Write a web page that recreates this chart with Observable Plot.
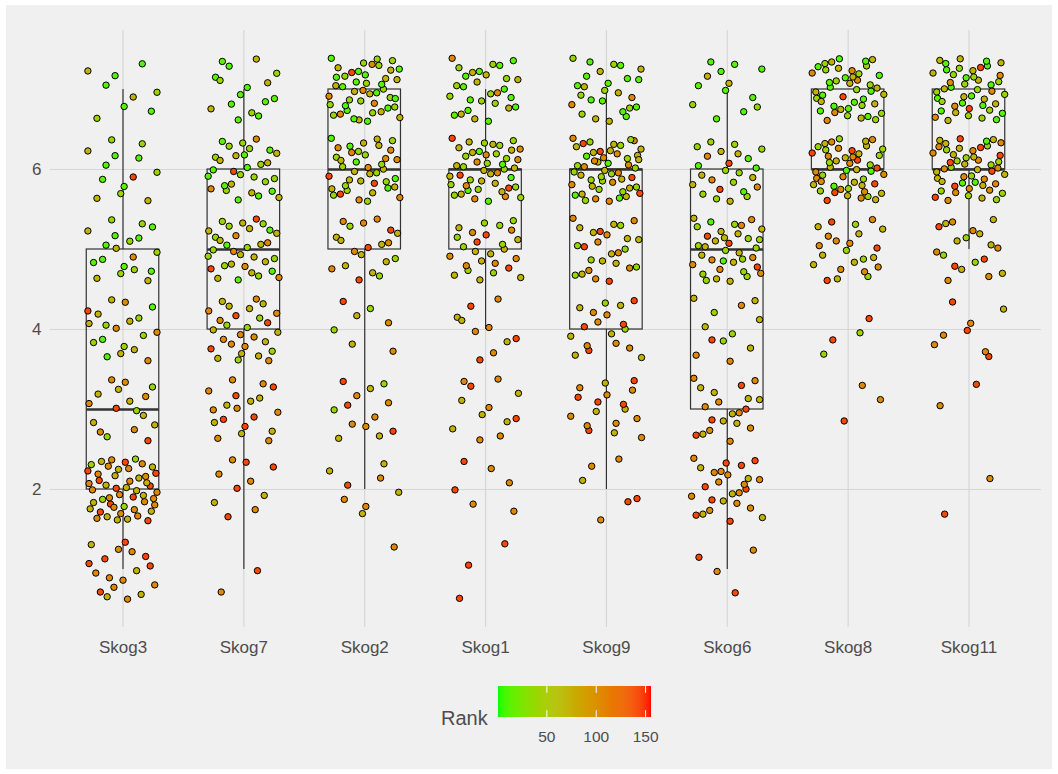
<!DOCTYPE html>
<html>
<head>
<meta charset="utf-8">
<script src="https://cdn.jsdelivr.net/npm/d3@7"></script>
<script src="https://cdn.jsdelivr.net/npm/@observablehq/plot@0.6"></script>
<style>
  html, body { margin: 0; padding: 0; background: #ffffff; overflow: hidden; }
  #bg { position: absolute; left: 6px; top: 5px; width: 1046px; height: 764px; background: #f0f0f0; }
  #chart { position: absolute; left: 0; top: 0; }
  #legend { position: absolute; left: 0; top: 672px; width: 1058px; height: 102px; }
  #rank { position: absolute; left: 441px; top: 36px; font: 20px "Liberation Sans", Arial, sans-serif; line-height: 20px; color: #4d4d4d; }
  #ramp { position: absolute; left: 498px; top: 14px; }
</style>
</head>
<body>
<div id="bg"></div>
<div id="chart"></div>
<div id="legend"><span id="rank">Rank</span><div id="ramp"></div></div>
<script>
// ---- data ----
const categories = ["Skog3", "Skog7", "Skog2", "Skog1", "Skog9", "Skog6", "Skog8", "Skog11"];
const scoreLevels = [1, 2, 3, 4, 5, 6, 7];
// representative Rank of each colour group: green, lime, olive, orange, red
const rankBins = [12, 42, 72, 105, 142];
// rows = score 1..7, columns = number of points in each rank group
const skog3  = [[0,0,4,8,6],[0,4,16,20,10],[0,3,6,6,2],[3,5,6,4,1],[8,6,4,1,0],[5,4,3,0,1],[5,2,2,0,0]];
const skog7  = [[0,0,0,1,1],[0,0,2,4,4],[0,0,6,8,5],[0,5,10,10,3],[4,10,12,5,2],[10,10,7,2,1],[10,3,3,0,0]];
const skog2  = [[0,0,0,1,0],[0,0,4,3,1],[0,2,3,5,3],[0,2,2,2,1],[0,3,8,6,3],[5,12,12,8,3],[15,14,10,5,1]];
const skog1  = [[0,0,0,0,3],[0,0,0,4,2],[0,0,5,5,2],[0,0,3,4,3],[0,8,9,6,3],[5,15,14,8,3],[12,8,7,2,0]];
const skog9  = [[0,0,0,0,0],[0,0,1,3,2],[0,0,4,8,5],[0,2,6,6,4],[0,6,9,8,3],[4,15,15,12,4],[12,6,6,2,0]];
const skog6  = [[0,0,0,2,2],[0,0,6,12,8],[0,0,8,8,4],[0,3,5,3,1],[2,12,12,7,3],[4,10,6,3,2],[9,2,2,0,0]];
const skog8  = [[0,0,0,0,0],[0,0,0,0,0],[0,0,0,2,1],[0,2,0,0,2],[0,4,8,8,3],[3,12,14,14,7],[15,12,12,5,1]];
const skog11 = [[0,0,0,0,0],[0,0,0,1,1],[0,0,0,1,1],[0,0,1,4,3],[0,3,7,6,3],[3,12,14,14,7],[14,12,12,5,2]];
const countsByCategory = [skog3, skog7, skog2, skog1, skog9, skog6, skog8, skog11];
const yTicks = [2, 4, 6];
const legendTicks = [50, 100, 150];
const rankDomain = [1, 156];

// ---- expand to points with deterministic (quasi-random, Halton) jitter ----
function halton(i, b) {
  let f = 1, r = 0;
  while (i > 0) { f /= b; r += f * (i % b); i = Math.floor(i / b); }
  return r;
}
const points = [];
countsByCategory.forEach((table, ci) => {
  table.forEach((row, li) => {
    let k = 0;
    const total = d3.sum(row);
    const idx = d3.range(total).map(j => j).sort((a, b) => halton(a + 3, 5) - halton(b + 3, 5));
    row.forEach((n, bi) => {
      for (let m = 0; m < n; m++) {
        const s = idx[k] + 1 + ci * 11 + li * 5;
        points.push({cat: ci, score: scoreLevels[li], rank: rankBins[bi],
                     jx: (halton(s, 2) - 0.5) * 0.6, jy: (halton(s, 3) - 0.5) * 0.8,
                     order: halton(s, 7)});
        k++;
      }
    });
  });
});
points.sort((a, b) => a.order - b.order);

// ---- box statistics ----
const stats = categories.map((c, ci) => {
  const vals = points.filter(p => p.cat === ci).map(p => p.score).sort(d3.ascending);
  const q1 = d3.quantileSorted(vals, 0.25);
  const med = d3.quantileSorted(vals, 0.5);
  const q3 = d3.quantileSorted(vals, 0.75);
  const iqr = q3 - q1;
  const lo = d3.min(vals.filter(v => v >= q1 - 1.5 * iqr));
  const hi = d3.max(vals.filter(v => v <= q3 + 1.5 * iqr));
  return {ci, q1, med, q3, lo, hi};
});

const colorSpec = {type: "linear", domain: rankDomain, range: ["#00ff00", "#ff0000"], interpolate: "lab"};
const font = '"Liberation Sans", Arial, sans-serif';
const boxStroke = "#333333";

const chart = Plot.plot({
  width: 1058, height: 672,
  marginLeft: 50, marginRight: 17, marginTop: 30, marginBottom: 45,
  style: {background: "transparent", fontFamily: font, color: "#4d4d4d"},
  x: {domain: [-0.6, categories.length - 0.4]},
  y: {domain: [0.275, 7.7375]},
  color: colorSpec,
  marks: [
    Plot.gridY(yTicks, {stroke: "#d6d6d6", strokeOpacity: 1, strokeWidth: 1.2}),
    Plot.gridX(d3.range(categories.length), {stroke: "#d6d6d6", strokeOpacity: 1, strokeWidth: 1.2}),
    Plot.axisY(yTicks, {tickSize: 0, tickPadding: 9, fontSize: 17, label: null, tickFormat: d => String(d)}),
    Plot.axisX(d3.range(categories.length), {tickSize: 0, tickPadding: 13, fontSize: 17, label: null,
      tickFormat: i => categories[i]}),
    Plot.ruleX(stats, {x: "ci", y1: "lo", y2: "q1", stroke: boxStroke, strokeWidth: 1.2}),
    Plot.ruleX(stats, {x: "ci", y1: "q3", y2: "hi", stroke: boxStroke, strokeWidth: 1.2}),
    Plot.rect(stats, {x1: d => d.ci - 0.3, x2: d => d.ci + 0.3, y1: "q1", y2: "q3",
      fill: "none", stroke: boxStroke, strokeWidth: 1.2}),
    Plot.ruleY(stats, {y: "med", x1: d => d.ci - 0.3, x2: d => d.ci + 0.3, stroke: boxStroke, strokeWidth: 2.3}),
    Plot.dot(points, {x: d => d.cat + d.jx, y: d => d.score + d.jy, r: 3.2,
      fill: "rank", stroke: "#000000", strokeWidth: 1})
  ]
});
document.getElementById("chart").append(chart);

// ---- colour bar legend ----
const rampValues = d3.range(rankDomain[0], rankDomain[1]);
const ramp = Plot.plot({
  width: 165, height: 64,
  marginLeft: 0, marginRight: 12, marginTop: 0, marginBottom: 33,
  style: {background: "transparent", fontFamily: font, color: "#4d4d4d"},
  x: {domain: rankDomain},
  y: {domain: [0, 1], axis: null},
  color: colorSpec,
  marks: [
    Plot.rect(rampValues, {x1: d => d, x2: d => Math.min(d + 1.5, rankDomain[1]), y1: 0, y2: 1, fill: d => d + 0.5}),
    Plot.ruleX(legendTicks, {x: d => d, y1: 0.78, y2: 1, stroke: "white", strokeWidth: 1}),
    Plot.ruleX(legendTicks, {x: d => d, y1: 0, y2: 0.22, stroke: "white", strokeWidth: 1}),
    Plot.axisX(legendTicks, {tickSize: 0, tickPadding: 13, fontSize: 15.5, label: null})
  ]
});
document.getElementById("ramp").append(ramp);
</script>
</body>
</html>
